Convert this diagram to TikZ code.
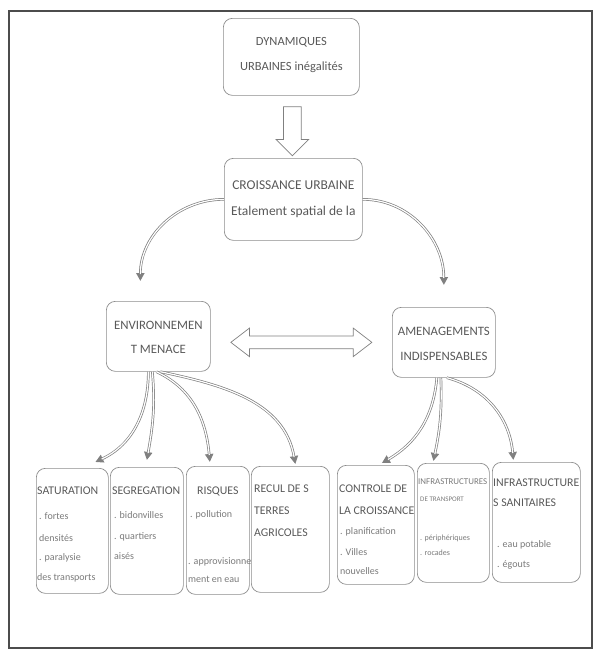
\documentclass[tikz,border=0pt]{standalone}
\usepackage{fontspec}
\setmainfont{Carlito}
\usetikzlibrary{arrows.meta,shapes.arrows,calc}
\definecolor{boxgray}{gray}{0.55}
\definecolor{txtgray}{gray}{0.35}
\definecolor{linkgray}{gray}{0.5}
\definecolor{framegray}{gray}{0.3}
\begin{document}
\begin{tikzpicture}[x=1pt,y=-1pt,
  box/.style={draw=boxgray, line width=0.7pt, rounded corners=9pt, inner sep=0pt, anchor=north west},
  ttl/.style={text=txtgray, inner sep=0pt, font=\fontsize{12.5}{14}\selectfont},
  ttlb/.style={text=txtgray, inner sep=0pt, font=\fontsize{13.5}{15}\selectfont},
  mid/.style={text=txtgray, inner sep=0pt, font=\fontsize{12.8}{14}\selectfont},
  hdr/.style={text=txtgray, inner sep=0pt, anchor=west, font=\fontsize{11.8}{13}\selectfont},
  itm/.style={text=txtgray!80, inner sep=0pt, anchor=west, font=\fontsize{10}{11}\selectfont},
  tiny/.style={text=txtgray!80, inner sep=0pt, anchor=west, font=\fontsize{7}{8}\selectfont},
  link/.style={draw=linkgray, line width=2.6pt, -{Triangle[length=8pt,width=8pt]},
    postaction={draw=white, line width=1.2pt, -, shorten >=7pt}},
  hollow/.style={draw=linkgray, fill=white, line width=0.7pt}
]
\useasboundingbox (0,0) rectangle (596,653);
\draw[framegray, line width=1.3pt] (9,11) rectangle (592,648);

% top
\node[box, minimum width=136pt, minimum height=77pt] (dyn) at (223,18) {};
\node[ttl] at ($(dyn.north)+(0,24)$) {DYNAMIQUES};
\node[ttl] at ($(dyn.north)+(0,49)$) {URBAINES inégalités};

\node[box, minimum width=138pt, minimum height=82pt] (cro) at (224,158) {};
\node[ttlb] at ($(cro.north)+(0,27)$) {CROISSANCE URBAINE};
\node[ttlb] at ($(cro.north)+(0,54)$) {Etalement spatial de la};

\node[hollow, single arrow, rotate=-90, minimum height=49pt, inner sep=8.5pt,
  single arrow head extend=7.5pt] (down) at ($(dyn.south)!0.5!(cro.north)$) {};

% middle
\node[box, minimum width=104pt, minimum height=70pt] (env) at (106,301) {};
\node[mid] at ($(env.north)+(0,24)$) {ENVIRONNEMEN};
\node[mid] at ($(env.north)+(0,48)$) {T MENACE};

\node[box, minimum width=103pt, minimum height=70pt] (ame) at (392,307) {};
\node[mid] at ($(ame.north)+(0,24)$) {AMENAGEMENTS};
\node[mid] at ($(ame.north)+(0,49)$) {INDISPENSABLES};

\node[hollow, double arrow, minimum height=141pt, inner sep=6pt,
  double arrow head extend=8pt, double arrow tip angle=75] (both)
  at ($(env.east)!0.5!(ame.west)+(0,3)$) {};

% bottom boxes
\node[box, minimum width=72pt, minimum height=125pt] (sat) at (36,468) {};
\node[hdr] at ($(sat.north west)+(1,23)$) {SATURATION};
\node[itm] at ($(sat.north west)+(3,48)$) {. fortes};
\node[itm] at ($(sat.north west)+(3,70)$) {densités};
\node[itm] at ($(sat.north west)+(3,90)$) {. paralysie};
\node[itm] at ($(sat.north west)+(1,110)$) {des transports};

\node[box, minimum width=73pt, minimum height=127pt] (seg) at (110,467) {};
\node[hdr] at ($(seg.north west)+(2,24)$) {SEGREGATION};
\node[itm] at ($(seg.north west)+(4,48)$) {. bidonvilles};
\node[itm] at ($(seg.north west)+(4,70)$) {. quartiers};
\node[itm] at ($(seg.north west)+(4,89)$) {aisés};

\node[box, minimum width=63pt, minimum height=128pt] (ris) at (186,466) {};
\node[hdr, anchor=center] at ($(ris.north)+(0,25)$) {RISQUES};
\node[itm] at ($(ris.north west)+(4,49)$) {. pollution};
\node[itm] at ($(ris.north west)+(2,96)$) {. approvisionne};
\node[itm] at ($(ris.north west)+(2,113)$) {ment en eau};

\node[box, minimum width=78pt, minimum height=126pt] (rec) at (251,466) {};
\node[hdr] at ($(rec.north west)+(3,23)$) {RECUL DE S};
\node[hdr] at ($(rec.north west)+(3,45)$) {TERRES};
\node[hdr] at ($(rec.north west)+(3,67)$) {AGRICOLES};

\node[box, minimum width=77pt, minimum height=119pt] (con) at (337,465) {};
\node[hdr] at ($(con.north west)+(2,24)$) {CONTROLE DE};
\node[hdr] at ($(con.north west)+(2,46)$) {LA CROISSANCE};
\node[itm] at ($(con.north west)+(3,67)$) {. planification};
\node[itm] at ($(con.north west)+(3,87)$) {. Villes};
\node[itm] at ($(con.north west)+(3,106)$) {nouvelles};

\node[box, minimum width=72pt, minimum height=119pt] (inf) at (417,463) {};
\node[tiny, font=\fontsize{8.9}{10}\selectfont] at ($(inf.north west)+(1,19)$) {INFRASTRUCTURES};
\node[tiny] at ($(inf.north west)+(3,36)$) {DE TRANSPORT};
\node[tiny, font=\fontsize{8}{9}\selectfont] at ($(inf.north west)+(3,75)$) {. périphériques};
\node[tiny, font=\fontsize{8}{9}\selectfont] at ($(inf.north west)+(3,90)$) {. rocades};

\node[box, minimum width=88pt, minimum height=120pt] (san) at (492,462) {};
\node[hdr] at ($(san.north west)+(1,21)$) {INFRASTRUCTURE};
\node[hdr] at ($(san.north west)+(1,41)$) {S SANITAIRES};
\node[itm] at ($(san.north west)+(5,83)$) {. eau potable};
\node[itm] at ($(san.north west)+(5,103)$) {. égouts};

% tips
\coordinate (tl) at ($(env.north)+(-18,-20)$);
\coordinate (tr) at ($(ame.north)+(0,-22)$);
\coordinate (t1) at ($(sat.north)+(23,-6)$);
\coordinate (t2) at ($(seg.north)+(0,-7)$);
\coordinate (t3) at ($(ris.north)+(-8,-4)$);
\coordinate (t4) at ($(rec.north)+(5,-2)$);
\coordinate (t5) at ($(con.north)+(6,-2)$);
\coordinate (t6) at ($(inf.north)+(-20,-2)$);
\coordinate (t7) at ($(san.north)+(-23,-2)$);

\draw[link] (cro.west) to[out=180, in=90] (tl);
\draw[link] (cro.east) to[out=0, in=90] (tr);

\draw[link] ($(env.south)+(-10,0)$) to[out=-90, in=25] (t1);
\draw[link] ($(env.south)+(-6,0)$) to[out=-85, in=80] (t2);
\draw[link] ($(env.south)+(-2,0)$) to[out=-25, in=95] (t3);
\draw[link] ($(env.south)+(2,0)$) to[out=-12, in=100] (t4);

\draw[link] ($(ame.south)+(-7,0)$) to[out=-95, in=30] (t5);
\draw[link] ($(ame.south)+(-3,0)$) to[out=-88, in=78] (t6);
\draw[link] ($(ame.south)+(3,0)$) to[out=-15, in=95] (t7);
\end{tikzpicture}
\end{document}
